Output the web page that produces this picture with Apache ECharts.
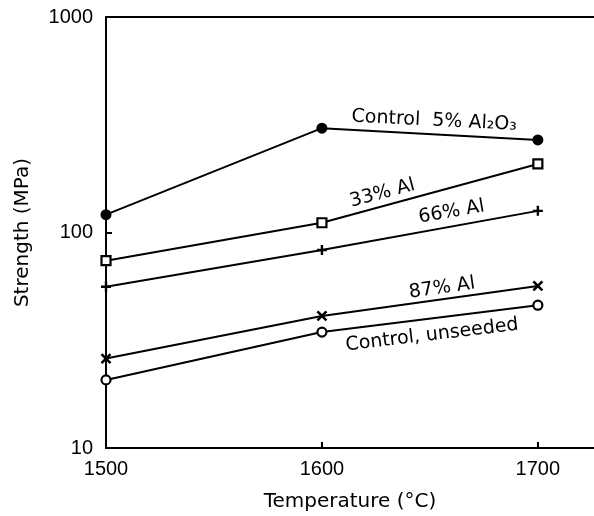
<!DOCTYPE html>
<html>
<head>
<meta charset="utf-8">
<script src="https://cdn.jsdelivr.net/npm/echarts@6/dist/echarts.min.js"></script>
<style>
  html, body { margin: 0; padding: 0; background: #fff; }
  #main { width: 594px; height: 516px; }
</style>
</head>
<body>
<div id="main"></div>
<script>
// 数据: 温度 (°C) 与强度 (MPa)
const temps = [1500, 1600, 1700];
const control5Al2O3 = [121, 305, 269];
const al33 = [74, 111, 208];
const al66 = [56, 83, 126];
const al87 = [26, 41, 56.5];
const controlUnseeded = [20.7, 34.5, 46];
const yTicks = [10, 100, 1000];

// 曲线旁的标注 (数据坐标 + 旋转角度)
const notes = [
  { text: 'Control  5% Al₂O₃', at: [1652, 330], rot: -0.05 },
  { text: '33% Al', at: [1628, 152], rot: 0.26 },
  { text: '66% Al', at: [1660, 124.5], rot: 0.17 },
  { text: '87% Al', at: [1655.6, 55.2], rot: 0.14 },
  { text: 'Control, unseeded', at: [1651, 33.4], rot: 0.12 }
];

const FONT = 'DejaVu Sans';
const TICK_FONT = 'Liberation Sans';
const pairs = vals => temps.map((t, i) => [t, vals[i]]);
const plusPath = 'path://M5,0 L5,10 M0,5 L10,5';
const crossPath = 'path://M0,0 L10,10 M10,0 L0,10';

const chart = echarts.init(document.getElementById('main'));

function lineSeries(name, vals, symbol, size, filled) {
  return {
    name,
    type: 'line',
    data: pairs(vals),
    symbol,
    symbolSize: size,
    showAllSymbol: true,
    lineStyle: { color: '#000', width: 2 },
    itemStyle: { color: filled ? '#000' : '#fff', borderColor: '#000', borderWidth: filled ? 0 : 2.2 },
    emphasis: { disabled: true },
    z: 3
  };
}

const option = {
  animation: false,
  grid: { left: 106, right: 0, top: 17, bottom: 68, outerBoundsMode: 'none' },
  xAxis: [
    {
      type: 'value',
      min: 1500,
      max: 1726,
      interval: 100,
      name: 'Temperature (°C)',
      nameLocation: 'middle',
      nameGap: 44,
      nameTextStyle: { fontFamily: FONT, fontSize: 20, color: '#000' },
      axisLine: { show: true, onZero: false, lineStyle: { color: '#000', width: 2 } },
      axisTick: {
        show: true, inside: true, length: 6, customValues: temps,
        lineStyle: { color: '#000', width: 2 }
      },
      axisLabel: {
        fontFamily: TICK_FONT, fontSize: 20, color: '#000', margin: 11,
        customValues: temps,
        formatter: v => String(v)
      },
      splitLine: { show: false }
    },
    {
      type: 'value',
      position: 'top',
      min: 1500,
      max: 1726,
      axisLine: { show: true, lineStyle: { color: '#000', width: 2 } },
      axisTick: { show: false },
      axisLabel: { show: false },
      splitLine: { show: false }
    }
  ],
  yAxis: {
    type: 'log',
    logBase: 10,
    min: yTicks[0],
    max: yTicks[yTicks.length - 1],
    name: 'Strength (MPa)',
    nameLocation: 'middle',
    nameGap: 73,
    nameTextStyle: { fontFamily: FONT, fontSize: 20, color: '#000' },
    axisLine: { show: true, lineStyle: { color: '#000', width: 2 } },
    axisTick: { show: true, inside: true, length: 6, lineStyle: { color: '#000', width: 2 } },
    minorTick: { show: false },
    axisLabel: {
      fontFamily: TICK_FONT, fontSize: 20, color: '#000', margin: 13,
      formatter: v => String(Math.round(v))
    },
    splitLine: { show: false }
  },
  series: [
    lineSeries('Control 5% Al2O3', control5Al2O3, 'circle', 11, true),
    lineSeries('33% Al', al33, 'rect', 9, false),
    {
      ...lineSeries('66% Al', al66, plusPath, 10, false),
      itemStyle: { color: '#000', borderColor: '#000', borderWidth: 2.4 }
    },
    {
      ...lineSeries('87% Al', al87, crossPath, 9, false),
      itemStyle: { color: '#000', borderColor: '#000', borderWidth: 2.6 }
    },
    lineSeries('Control, unseeded', controlUnseeded, 'circle', 9, false)
  ]
};

chart.setOption(option);

// 标注文字: 用坐标轴换算位置
chart.setOption({
  graphic: notes.map(n => {
    const p = chart.convertToPixel({ gridIndex: 0 }, n.at);
    return {
      type: 'text',
      x: p[0],
      y: p[1],
      rotation: n.rot,
      z: 10,
      style: {
        text: n.text,
        fontFamily: FONT,
        fontSize: 19,
        fill: '#000',
        align: 'center',
        verticalAlign: 'middle'
      }
    };
  })
});
</script>
</body>
</html>
